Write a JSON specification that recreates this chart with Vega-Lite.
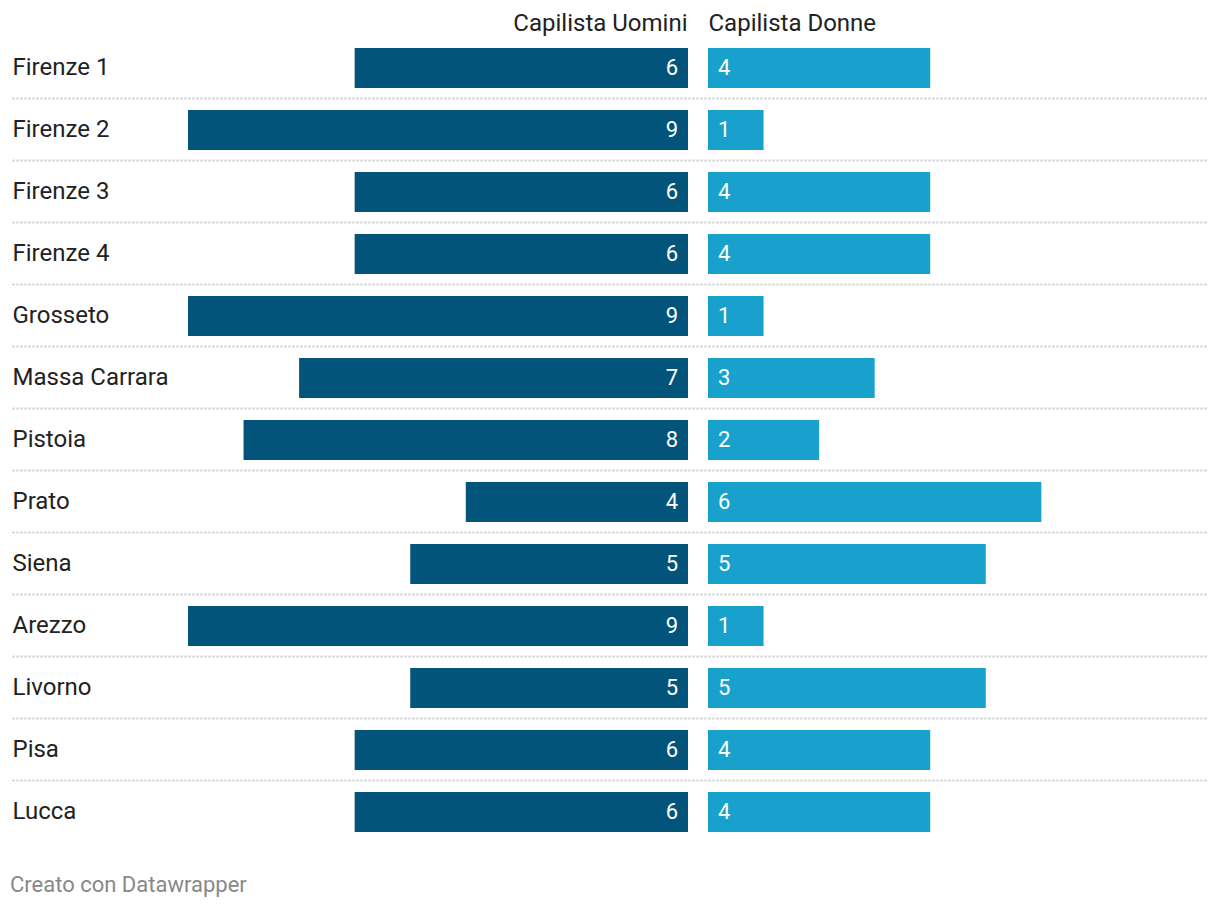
{
  "$schema": "https://vega.github.io/schema/vega-lite/v6.json",
  "autosize": {"type": "none"},
  "padding": {"left": 12, "top": 37, "right": 12, "bottom": 65},
  "width": 1196,
  "height": 806,
  "background": "white",
  "config": {"view": {"stroke": null}, "font": "Roboto"},
  "title": {"text": "Creato con Datawrapper", "orient": "bottom", "anchor": "start", "fontSize": 22, "fontWeight": "normal", "color": "#888888", "font": "Roboto", "baseline": "alphabetic", "offset": 49, "dx": -2},
  "data": {"values": [
    {"collegio": "Firenze 1", "uomini": 6, "donne": 4},
    {"collegio": "Firenze 2", "uomini": 9, "donne": 1},
    {"collegio": "Firenze 3", "uomini": 6, "donne": 4},
    {"collegio": "Firenze 4", "uomini": 6, "donne": 4},
    {"collegio": "Grosseto", "uomini": 9, "donne": 1},
    {"collegio": "Massa Carrara", "uomini": 7, "donne": 3},
    {"collegio": "Pistoia", "uomini": 8, "donne": 2},
    {"collegio": "Prato", "uomini": 4, "donne": 6},
    {"collegio": "Siena", "uomini": 5, "donne": 5},
    {"collegio": "Arezzo", "uomini": 9, "donne": 1},
    {"collegio": "Livorno", "uomini": 5, "donne": 5},
    {"collegio": "Pisa", "uomini": 6, "donne": 4},
    {"collegio": "Lucca", "uomini": 6, "donne": 4}
  ]},
  "layer": [
    {
      "mark": {"type": "text", "text": ""},
      "encoding": {
        "y": {
          "field": "collegio", "type": "nominal", "sort": null,
          "scale": {"paddingInner": 0.3548, "paddingOuter": 0.1774},
          "axis": {
            "title": null, "ticks": false, "domain": false, "labelAlign": "left", "labelPadding": 0,
            "labelFontSize": 24, "labelColor": "#222222", "labelFont": "Roboto", "labelLimit": 0,
            "grid": true, "gridDash": [2, 2], "gridColor": "#cccccc", "gridWidth": 2, "bandPosition": -0.275,
            "gridOpacity": {"condition": {"test": "datum.value === 'Firenze 1'", "value": 0}, "value": 1}
          }
        }
      }
    },
    {
      "encoding": {
        "y": {"field": "collegio", "type": "nominal", "sort": null, "axis": null},
        "x": {"field": "uomini", "type": "quantitative",
          "scale": {"domain": [0, 9], "range": [676, 176], "nice": false},
          "axis": {"orient": "top", "labels": false, "ticks": false, "domain": false, "grid": false,
            "title": "Capilista Uomini", "titleX": 675, "titleY": -14, "titleAlign": "right", "titleAnchor": null,
            "titleBaseline": "middle", "titleFontSize": 24, "titleFontWeight": "normal", "titleColor": "#222222", "titleFont": "Roboto", "titleAngle": 0}}
      },
      "layer": [
        {"mark": {"type": "bar", "color": "#03547b"}},
        {"mark": {"type": "text", "align": "right", "baseline": "middle", "dx": -10, "fontSize": 22, "color": "white", "font": "Roboto"},
          "encoding": {"x": {"datum": 0, "type": "quantitative"}, "text": {"field": "uomini"}}}
      ]
    },
    {
      "encoding": {
        "y": {"field": "collegio", "type": "nominal", "sort": null, "axis": null},
        "x": {"field": "donne", "type": "quantitative",
          "scale": {"domain": [0, 9], "range": [696, 1196], "nice": false},
          "axis": {"orient": "top", "labels": false, "ticks": false, "domain": false, "grid": false,
            "title": "Capilista Donne", "titleX": 696, "titleY": -14, "titleAlign": "left", "titleAnchor": null,
            "titleBaseline": "middle", "titleFontSize": 24, "titleFontWeight": "normal", "titleColor": "#222222", "titleFont": "Roboto", "titleAngle": 0}}
      },
      "layer": [
        {"mark": {"type": "bar", "color": "#18a1cd"}},
        {"mark": {"type": "text", "align": "left", "baseline": "middle", "dx": 10, "fontSize": 22, "color": "white", "font": "Roboto"},
          "encoding": {"x": {"datum": 0, "type": "quantitative"}, "text": {"field": "donne"}}}
      ]
    }
  ],
  "resolve": {"scale": {"x": "independent"}, "axis": {"x": "independent", "y": "independent"}}
}
